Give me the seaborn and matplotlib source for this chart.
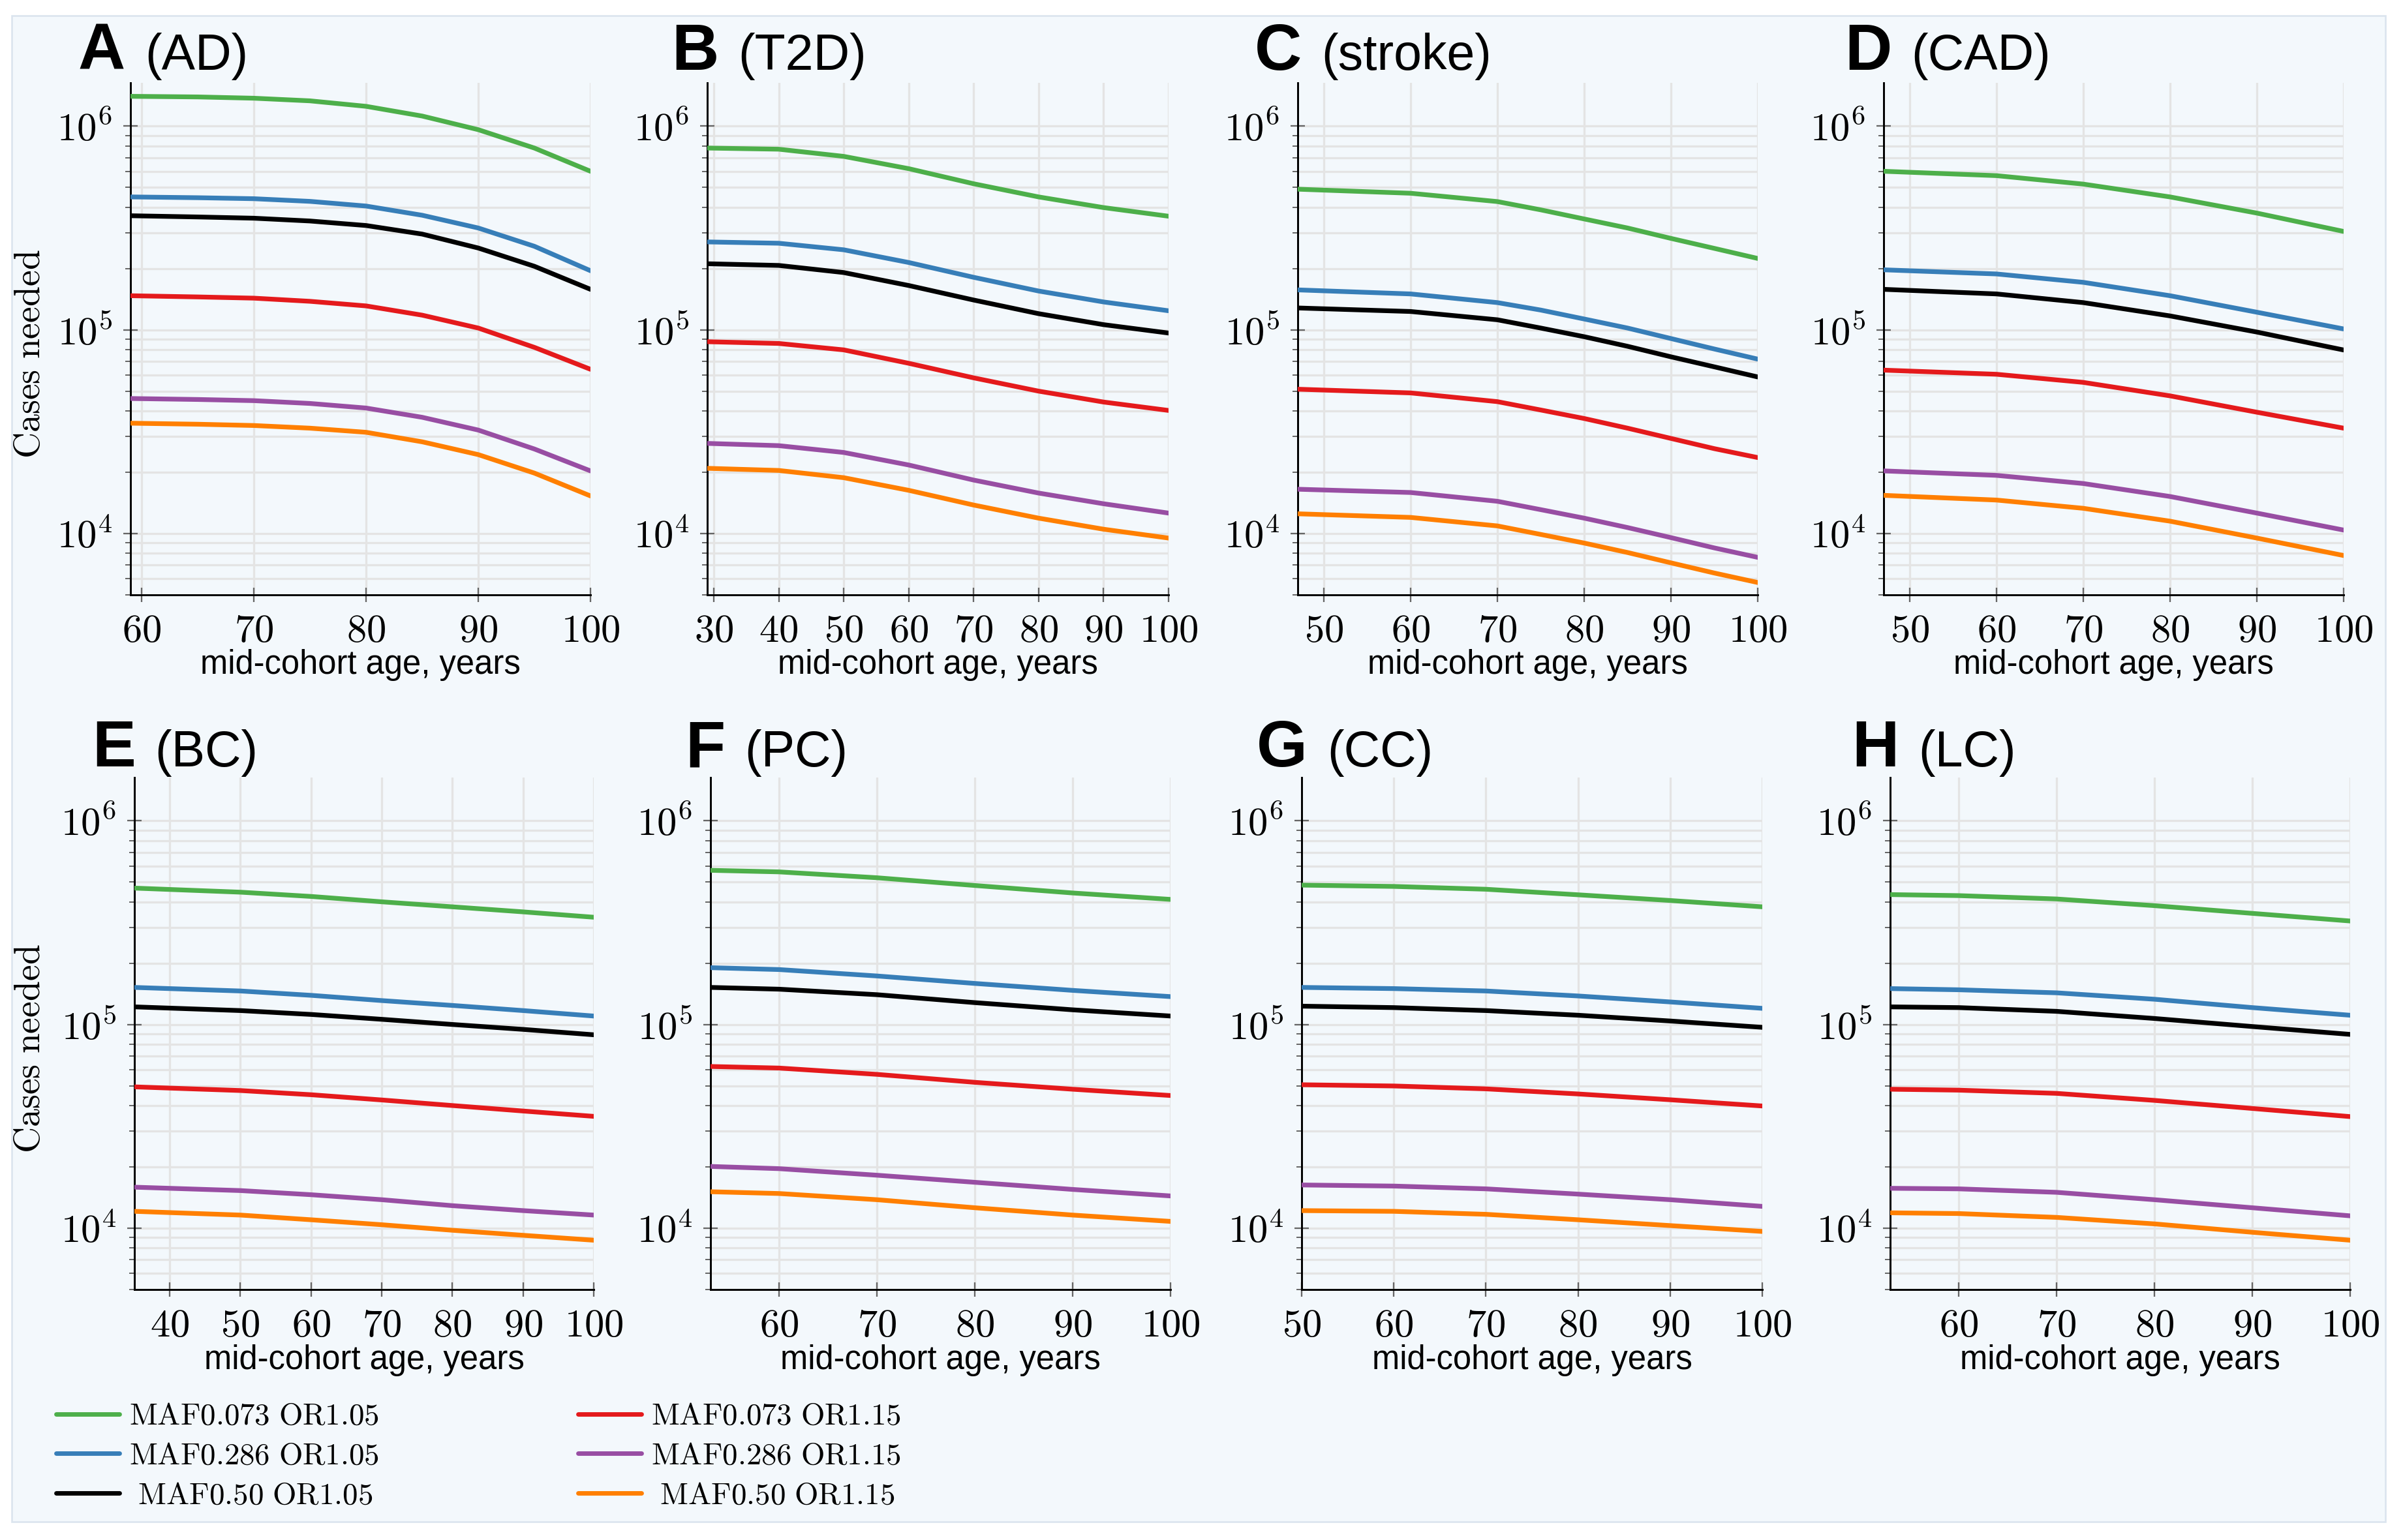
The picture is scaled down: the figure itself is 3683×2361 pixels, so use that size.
import numpy as np
import pandas as pd
import matplotlib
matplotlib.use('Agg')
import matplotlib.pyplot as plt
import seaborn as sns
from matplotlib.ticker import FixedLocator, FuncFormatter, LogLocator, NullFormatter
from matplotlib.patches import Rectangle
from matplotlib.lines import Line2D

# ---------------- data ----------------
series_labels = ['MAF0.073 OR1.05', 'MAF0.286 OR1.05', ' MAF0.50 OR1.05',
                 'MAF0.073 OR1.15', 'MAF0.286 OR1.15', ' MAF0.50 OR1.15']
series_colors = ['#4daf4a', '#377eb8', '#000000', '#e41a1c', '#984ea3', '#ff7f00']

panel_letters = ['A', 'B', 'C', 'D', 'E', 'F', 'G', 'H']
panel_names = ['AD', 'T2D', 'stroke', 'CAD', 'BC', 'PC', 'CC', 'LC']

age_AD = [59, 65, 70, 75, 80, 85, 90, 95, 100]
cases_AD = [
    [1.40e6, 1.39e6, 1.37e6, 1.33e6, 1.25e6, 1.12e6, 9.6e5, 7.8e5, 6.0e5],
    [4.49e5, 4.45e5, 4.40e5, 4.27e5, 4.05e5, 3.65e5, 3.16e5, 2.57e5, 1.95e5],
    [3.63e5, 3.58e5, 3.53e5, 3.42e5, 3.25e5, 2.95e5, 2.52e5, 2.05e5, 1.58e5],
    [1.47e5, 1.45e5, 1.43e5, 1.38e5, 1.31e5, 1.18e5, 1.02e5, 8.2e4, 6.4e4],
    [4.60e4, 4.55e4, 4.49e4, 4.35e4, 4.13e4, 3.72e4, 3.22e4, 2.60e4, 2.03e4],
    [3.48e4, 3.44e4, 3.39e4, 3.29e4, 3.14e4, 2.82e4, 2.44e4, 1.98e4, 1.53e4],
]

age_T2D = [29, 40, 50, 60, 70, 80, 90, 100]
cases_T2D = [
    [7.8e5, 7.7e5, 7.1e5, 6.18e5, 5.21e5, 4.49e5, 3.98e5, 3.61e5],
    [2.70e5, 2.66e5, 2.47e5, 2.14e5, 1.81e5, 1.55e5, 1.37e5, 1.24e5],
    [2.11e5, 2.07e5, 1.91e5, 1.65e5, 1.40e5, 1.20e5, 1.06e5, 9.64e4],
    [8.74e4, 8.57e4, 7.97e4, 6.85e4, 5.81e4, 5.00e4, 4.42e4, 4.02e4],
    [2.77e4, 2.70e4, 2.50e4, 2.17e4, 1.83e4, 1.58e4, 1.40e4, 1.26e4],
    [2.09e4, 2.04e4, 1.88e4, 1.63e4, 1.38e4, 1.19e4, 1.05e4, 9.5e3],
]

age_stroke = [47, 60, 70, 75, 80, 85, 90, 95, 100]
cases_stroke = [
    [4.90e5, 4.68e5, 4.26e5, 3.88e5, 3.50e5, 3.16e5, 2.81e5, 2.51e5, 2.24e5],
    [1.57e5, 1.50e5, 1.36e5, 1.25e5, 1.13e5, 1.02e5, 9.06e4, 8.05e4, 7.18e4],
    [1.28e5, 1.23e5, 1.12e5, 1.02e5, 9.25e4, 8.30e4, 7.37e4, 6.58e4, 5.87e4],
    [5.11e4, 4.90e4, 4.44e4, 4.04e4, 3.67e4, 3.29e4, 2.93e4, 2.61e4, 2.36e4],
    [1.65e4, 1.59e4, 1.44e4, 1.31e4, 1.19e4, 1.07e4, 9.55e3, 8.5e3, 7.64e3],
    [1.25e4, 1.20e4, 1.09e4, 9.9e3, 8.98e3, 8.07e3, 7.18e3, 6.4e3, 5.75e3],
]

age_CAD = [47, 60, 70, 80, 90, 100]
cases_CAD = [
    [6.00e5, 5.71e5, 5.19e5, 4.49e5, 3.74e5, 3.04e5],
    [1.97e5, 1.88e5, 1.71e5, 1.47e5, 1.22e5, 1.01e5],
    [1.58e5, 1.50e5, 1.36e5, 1.17e5, 9.75e4, 7.96e4],
    [6.34e4, 6.05e4, 5.52e4, 4.74e4, 3.94e4, 3.29e4],
    [2.03e4, 1.93e4, 1.76e4, 1.52e4, 1.26e4, 1.04e4],
    [1.54e4, 1.46e4, 1.33e4, 1.15e4, 9.5e3, 7.8e3],
]

age_BC = [35, 50, 60, 70, 80, 90, 100]
cases_BC = [
    [4.67e5, 4.46e5, 4.25e5, 4.00e5, 3.78e5, 3.57e5, 3.36e5],
    [1.52e5, 1.46e5, 1.39e5, 1.31e5, 1.24e5, 1.17e5, 1.10e5],
    [1.22e5, 1.17e5, 1.12e5, 1.06e5, 1.00e5, 9.46e4, 8.90e4],
    [4.94e4, 4.74e4, 4.52e4, 4.26e4, 4.00e4, 3.76e4, 3.54e4],
    [1.59e4, 1.53e4, 1.46e4, 1.38e4, 1.29e4, 1.22e4, 1.16e4],
    [1.21e4, 1.16e4, 1.10e4, 1.04e4, 9.77e3, 9.23e3, 8.73e3],
]

age_PC = [53, 60, 70, 80, 90, 100]
cases_PC = [
    [5.71e5, 5.61e5, 5.25e5, 4.81e5, 4.42e5, 4.11e5],
    [1.90e5, 1.86e5, 1.73e5, 1.59e5, 1.47e5, 1.37e5],
    [1.52e5, 1.49e5, 1.40e5, 1.28e5, 1.18e5, 1.10e5],
    [6.22e4, 6.11e4, 5.69e4, 5.20e4, 4.81e4, 4.48e4],
    [2.01e4, 1.96e4, 1.82e4, 1.68e4, 1.55e4, 1.44e4],
    [1.51e4, 1.48e4, 1.38e4, 1.26e4, 1.16e4, 1.08e4],
]

age_CC = [50, 60, 70, 80, 90, 100]
cases_CC = [
    [4.83e5, 4.76e5, 4.61e5, 4.33e5, 4.06e5, 3.78e5],
    [1.52e5, 1.50e5, 1.46e5, 1.38e5, 1.29e5, 1.20e5],
    [1.23e5, 1.21e5, 1.17e5, 1.11e5, 1.04e5, 9.68e4],
    [5.06e4, 4.99e4, 4.83e4, 4.56e4, 4.27e4, 3.98e4],
    [1.63e4, 1.61e4, 1.56e4, 1.47e4, 1.38e4, 1.28e4],
    [1.22e4, 1.21e4, 1.17e4, 1.10e4, 1.03e4, 9.64e3],
]

age_LC = [53, 60, 70, 80, 90, 100]
cases_LC = [
    [4.34e5, 4.29e5, 4.13e5, 3.83e5, 3.51e5, 3.22e5],
    [1.50e5, 1.48e5, 1.43e5, 1.33e5, 1.21e5, 1.11e5],
    [1.22e5, 1.21e5, 1.16e5, 1.07e5, 9.77e4, 8.94e4],
    [4.81e4, 4.76e4, 4.59e4, 4.24e4, 3.87e4, 3.53e4],
    [1.57e4, 1.56e4, 1.50e4, 1.38e4, 1.26e4, 1.15e4],
    [1.19e4, 1.18e4, 1.13e4, 1.05e4, 9.55e3, 8.73e3],
]

panel_ages = [age_AD, age_T2D, age_stroke, age_CAD, age_BC, age_PC, age_CC, age_LC]
panel_cases = [cases_AD, cases_T2D, cases_stroke, cases_CAD, cases_BC, cases_PC, cases_CC, cases_LC]

# ---------------- layout (pixels of the 3683x2361 canvas) ----------------
W, H = 3683, 2361
DPI = 236.1
# (left, right) of every axes, rows top/bottom
ax_lr = [(200, 905), (1084, 1791), (1989, 2694), (2887, 3592),
         (206, 910), (1089, 1794), (1995, 2701), (2897, 3602)]
row_tb = [(127, 912), (1192, 1977)]
title_x = [120, 1029, 1923, 2827, 141, 1050, 1926, 2838]
title_base = [107, 1175]

sns.set_theme(style='ticks')
plt.rcParams['font.family'] = ['Liberation Sans', 'DejaVu Sans']
plt.rcParams['mathtext.fontset'] = 'cm'
for k in ['text.color', 'axes.labelcolor', 'xtick.color', 'ytick.color']:
    plt.rcParams[k] = 'black'

fig = plt.figure(figsize=(W / DPI, H / DPI), dpi=DPI, facecolor='white')
fig.add_artist(Rectangle((18 / W, 1 - 2333 / H), (3656 - 18) / W, (2333 - 24) / H,
                         transform=fig.transFigure, facecolor='#f3f8fc',
                         edgecolor='#dbe4ee', linewidth=0.8, zorder=-10))

grid_c = '#e4e4e4'
axes = []
for i in range(8):
    l, r = ax_lr[i]
    t, b = row_tb[i // 4]
    ax = fig.add_axes([l / W, 1 - b / H, (r - l) / W, (b - t) / H])
    ax.set_facecolor('none')
    ages = panel_ages[i]
    cases = panel_cases[i]
    df = pd.DataFrame({
        'age': np.tile(ages, len(series_labels)),
        'cases': np.concatenate(cases),
        'series': np.repeat(series_labels, len(ages)),
    })
    sns.lineplot(data=df, x='age', y='cases', hue='series', hue_order=series_labels,
                 palette=series_colors, estimator=None, linewidth=2.2, ax=ax,
                 legend=False, zorder=3)
    ax.set_yscale('log')
    ax.set_ylim(5.0e3, 1.63e6)
    ax.set_xlim(ages[0], 100)
    ax.xaxis.set_major_locator(FixedLocator(np.arange(10, 101, 10)))
    ax.xaxis.set_major_formatter(FuncFormatter(lambda v, p: f'${v:.0f}$'))
    ax.yaxis.set_major_locator(LogLocator(base=10, numticks=10))
    ax.yaxis.set_minor_locator(LogLocator(base=10, subs=np.arange(2, 10), numticks=20))
    ax.yaxis.set_major_formatter(FuncFormatter(lambda v, p: f'$10^{{{int(round(np.log10(v)))}}}$'))
    ax.yaxis.set_minor_formatter(NullFormatter())
    ax.grid(True, which='major', axis='both', color=grid_c, linewidth=1.0, zorder=0)
    ax.grid(True, which='minor', axis='y', color=grid_c, linewidth=1.0, zorder=0)
    ax.set_axisbelow(True)
    for s in ['top', 'right']:
        ax.spines[s].set_visible(False)
    for s in ['left', 'bottom']:
        ax.spines[s].set_color('black')
        ax.spines[s].set_linewidth(0.9)
    ax.tick_params(axis='both', which='major', direction='inout', length=7, width=0.7,
                   color='#666666', labelcolor='black', labelsize=18.5, pad=5)
    ax.tick_params(axis='y', which='minor', direction='out', length=2.5, width=0.6,
                   color='#666666')
    ax.set_xlabel('mid-cohort age, years', fontsize=15.5, va='center', color='black')
    ax.xaxis.set_label_coords(0.5, -108 / (b - t))
    if i % 4 == 0:
        ax.set_ylabel(r'$\mathrm{Cases\ needed}$', fontsize=17, va='center', color='black')
        ax.yaxis.set_label_coords((47 - l) / (r - l), 0.47)
    else:
        ax.set_ylabel('')
    axes.append(ax)

# panel titles: bold letter + disease name
renderer = fig.canvas.get_renderer()
inv = fig.transFigure.inverted()
for i in range(8):
    yb = 1 - title_base[i // 4] / H
    t1 = fig.text(title_x[i] / W, yb, panel_letters[i], fontsize=30.5, fontweight='bold',
                  ha='left', va='baseline', color='black')
    bb = t1.get_window_extent(renderer)
    x2 = inv.transform((bb.x1 + 30, 0))[0]
    fig.text(x2, yb, f'({panel_names[i]})', fontsize=23.5, ha='left', va='baseline',
             color='black')

# legend
handles = [Line2D([0], [0], color=c, linewidth=2.1) for c in series_colors]
labels = [r'$\mathrm{' + s.replace(' ', r'\ ') + '}$' for s in series_labels]
leg = fig.legend(handles, labels, loc='upper left', bbox_to_anchor=(86 / W, 1 - 2150 / H),
                 ncol=2, frameon=False, fontsize=14.3, handlelength=2.07, handletextpad=0.32,
                 columnspacing=6.5, labelspacing=0.36, borderpad=0, borderaxespad=0)
for txt in leg.get_texts():
    txt.set_color('black')

fig.savefig('out.png', dpi=DPI, facecolor='white')
